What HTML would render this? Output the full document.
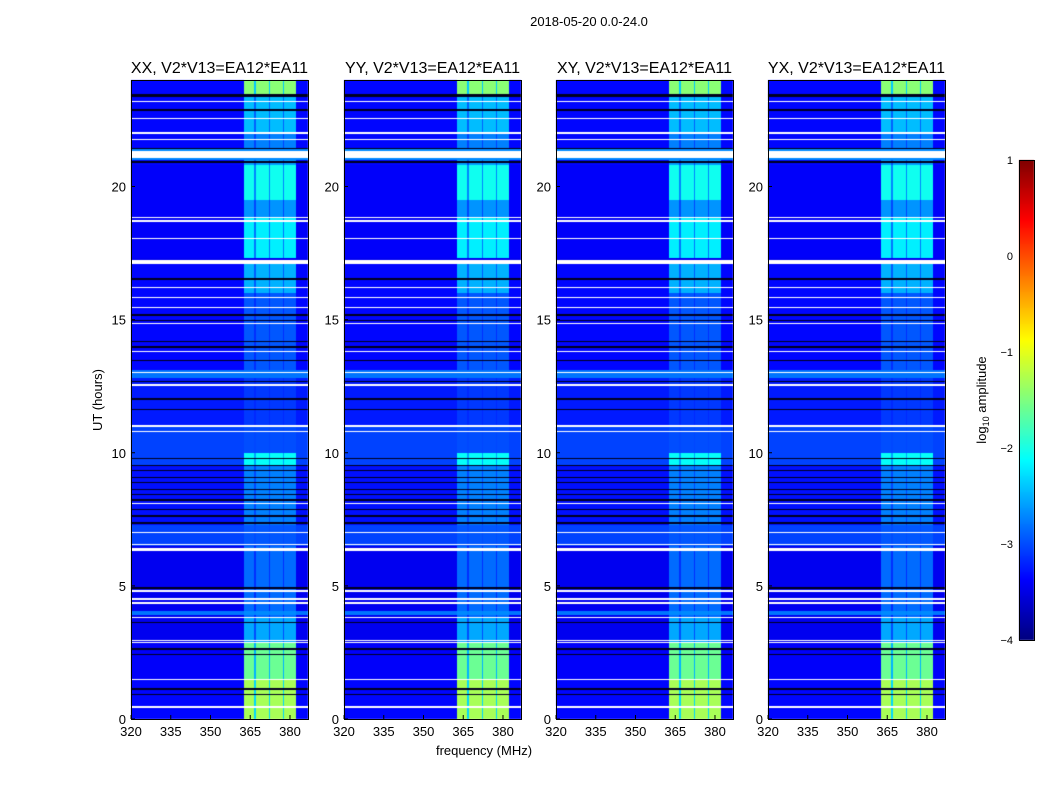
<!DOCTYPE html>
<html><head><meta charset="utf-8">
<style>
body{margin:0;background:#fff;width:1050px;height:800px;overflow:hidden;font-family:"Liberation Sans",sans-serif;}
svg text{font-family:"Liberation Sans",sans-serif;}
</style></head><body>
<div style="position:relative;width:1050px;height:800px">
<canvas id="cv" width="1050" height="800" style="position:absolute;left:0;top:0"></canvas>
<svg id="sv" width="1050" height="800" style="position:absolute;left:0;top:0"></svg>
</div>
<script>
// ---- data ----
const panelTitles = ["XX, V2*V13=EA12*EA11","YY, V2*V13=EA12*EA11","XY, V2*V13=EA12*EA11","YX, V2*V13=EA12*EA11"];
const xTicks = [320,335,350,365,380];
const yTicks = [0,5,10,15,20];
const cbTicks = [1,0,-1,-2,-3,-4];
const bands = [[362.6,366.6],[367.2,372.0],[372.5,377.2],[377.7,382.4]];
// time segments: background log10 amp, band log10 amp
const segStart = [0,1.5,2.9,3.8,3.9,4.05,6.5,7.3,9.5,10.0,11.0,12.8,13.1,16.0,17.3,18.8,19.5,20.8,21.0,21.4,22.0,23.35];
const segEnd   = [1.5,2.9,3.8,3.9,4.05,6.5,7.3,9.5,10.0,11.0,12.8,13.1,16.0,17.1,18.8,19.5,20.8,21.0,21.4,22.0,23.35,24.0];
const segBase  = [-3.35,-3.4,-3.45,-3.45,-2.8,-3.45,-3.05,-3.3,-3.05,-3.05,-3.25,-2.8,-3.35,-3.35,-3.4,-3.4,-3.4,-3.35,-2.7,-3.35,-3.35,-3.35];
const segBand  = [-1.3,-1.6,-2.55,-2.85,-2.7,-2.85,-2.95,-2.75,-2.1,-3.0,-3.1,-2.8,-2.95,-2.5,-2.2,-2.65,-2.05,-2.6,-2.7,-2.75,-2.45,-1.45];
// flagged (white) intervals in hours
const flagStart = [0.42,1.46,2.86,2.93,3.78,4.33,4.48,4.78,6.3,6.52,6.98,8.08,10.78,10.98,12.52,12.98,13.78,14.83,15.43,15.81,16.18,17.08,18.03,18.68,18.8,21.08,21.74,21.98,22.53,23.18];
const flagEnd   = [0.48,1.52,2.9,2.97,3.84,4.38,4.53,4.83,6.42,6.57,7.03,8.13,10.83,11.03,12.57,13.03,13.83,14.88,15.48,15.86,16.23,17.23,18.08,18.73,18.85,21.33,21.79,22.03,22.58,23.23];
// dropout (black) intervals
const darkStart = [0.9,1.1,2.4,2.6,3.6,4.9,7.33,7.6,7.85,8.2,8.4,8.6,8.85,9.05,9.3,9.5,9.75,11.6,12.0,12.65,13.45,13.95,14.15,14.95,15.15,16.5,20.9,21.4,22.85,23.38];
const darkEnd   = [0.95,1.15,2.45,2.65,3.65,4.95,7.4,7.65,7.9,8.25,8.45,8.65,8.9,9.1,9.35,9.55,9.8,11.65,12.05,12.7,13.5,14.0,14.2,15.0,15.2,16.55,20.95,21.45,22.9,23.48];

// ---- layout ----
const panelX = [131,344,556,768], panelW = 177, pTop = 80, pBot = 719;
const xMin = 320, xMax = 386.8, yMin = 0, yMax = 24;
const xs = (f,p) => panelX[p] + (f-xMin)/(xMax-xMin)*panelW;
const ys = t => pBot - (t-yMin)/(yMax-yMin)*(pBot-pTop);
const xinv = (px) => xMin + (px+0.5)/panelW*(xMax-xMin);
const yinv = (py) => yMax - (py+0.5)/(pBot-pTop)*(yMax-yMin);
const cbX = 1019, cbW = 15, cbTop = 160, cbBot = 640, vMin = -4, vMax = 1;
const cs = v => cbBot - (v-vMin)/(vMax-vMin)*(cbBot-cbTop);

function jet(v){
  const r = Math.min(Math.max(Math.min(4*v-1.5,-4*v+4.5),0),1);
  const g = Math.min(Math.max(Math.min(4*v-0.5,-4*v+3.5),0),1);
  const b = Math.min(Math.max(Math.min(4*v+0.5,-4*v+2.5),0),1);
  return [r*255,g*255,b*255];
}
function inAny(t,s,e){for(let i=0;i<s.length;i++) if(t>=s[i]&&t<e[i]) return true; return false;}
function value(f,t){
  let base=-3.45, band=-3.45;
  for(let i=0;i<segStart.length;i++) if(t>=segStart[i]&&t<segEnd[i]){base=segBase[i];band=segBand[i];break;}
  let inb=false; for(const b of bands) if(f>=b[0]&&f<b[1]) inb=true;
  if(inb) return band;
  if(f>=bands[0][0]&&f<bands[3][1]) return base+0.5*(band-base);
  return base;
}
const cv=document.getElementById('cv'), ctx=cv.getContext('2d');
ctx.fillStyle='#fff';ctx.fillRect(0,0,1050,800);
for(let p=0;p<4;p++){
  const img=ctx.createImageData(panelW,pBot-pTop);
  for(let py=0;py<pBot-pTop;py++){
    const t=yinv(py);
    const fl=inAny(t,flagStart,flagEnd), dk=inAny(t,darkStart,darkEnd);
    for(let px=0;px<panelW;px++){
      let c;
      if(fl) c=[255,255,255]; else if(dk) c=[0,0,30];
      else { const v=value(xinv(px),t); c=jet((v-vMin)/(vMax-vMin)); }
      const k=4*(py*panelW+px);
      img.data[k]=c[0];img.data[k+1]=c[1];img.data[k+2]=c[2];img.data[k+3]=255;
    }
  }
  ctx.putImageData(img,panelX[p],pTop);
}
for(let y=cbTop;y<cbBot;y++){
  const c=jet((cbBot-y-0.5)/(cbBot-cbTop));
  ctx.fillStyle=`rgb(${c[0]|0},${c[1]|0},${c[2]|0})`;ctx.fillRect(cbX,y,cbW,1);
}

// ---- svg overlay ----
const sv=document.getElementById('sv'), NS='http://www.w3.org/2000/svg';
function mk(tag,attrs,txt){const e=document.createElementNS(NS,tag);for(const k in attrs)e.setAttribute(k,attrs[k]);if(txt!==undefined)e.textContent=txt;sv.appendChild(e);return e;}
let e=mk('text',{x:589,y:26,'font-size':13,'text-anchor':'middle'},'2018-05-20 0.0-24.0');


for(let p=0;p<4;p++){
  e=mk('rect',{x:panelX[p]+0.5,y:pTop+0.5,width:panelW,height:pBot-pTop,fill:'none',stroke:'#000'});
  
  
  e=mk('text',{x:panelX[p]+panelW/2,y:73,'font-size':16,'text-anchor':'middle'},panelTitles[p]);
  
  
  for(const f of xTicks){
    const x=xs(f,p);
    e=mk('line',{x1:x,x2:x,y1:pBot,y2:pBot-4,stroke:'#000'});
    
    
    e=mk('text',{x:x,y:pBot+17,'font-size':13,'text-anchor':'middle'},String(f));
    
    
  }
  for(const t of yTicks){
    const y=ys(t);
    e=mk('line',{x1:panelX[p],x2:panelX[p]+4,y1:y,y2:y,stroke:'#000'});
    
    
    e=mk('text',{x:panelX[p]-5,y:y+5,'font-size':13,'text-anchor':'end'},String(t));
    
    
  }
}
e=mk('text',{x:484,y:755,'font-size':13,'text-anchor':'middle'},'frequency (MHz)');


e=mk('text',{x:102,y:400,'font-size':13,'text-anchor':'middle',transform:'rotate(-90 102 400)'},'UT (hours)');


e=mk('rect',{x:cbX+0.5,y:cbTop+0.5,width:cbW,height:cbBot-cbTop,fill:'none',stroke:'#000'});


for(const v of cbTicks){
  const y=cs(v);
  e=mk('text',{x:1013,y:y+4,'font-size':11,'text-anchor':'end'},v<0?'\u2212'+(-v):String(v));
  
  
}
e=mk('text',{x:986,y:400,'font-size':13,'text-anchor':'middle',transform:'rotate(-90 986 400)'});


e.innerHTML='log<tspan font-size="9" dy="3">10</tspan><tspan dy="-3"> amplitude</tspan>';
</script>
</body></html>
